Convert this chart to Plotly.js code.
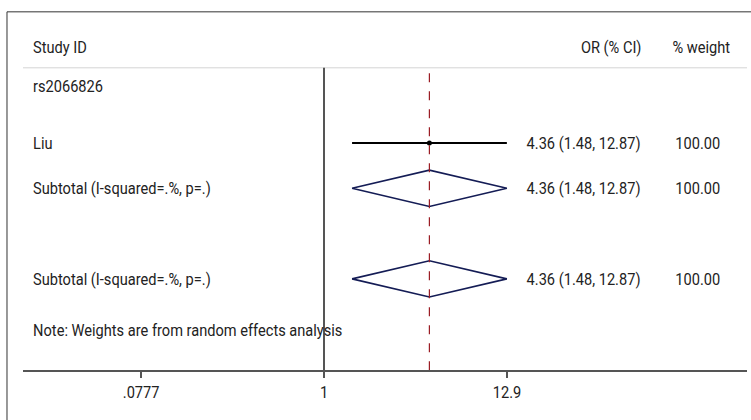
<!DOCTYPE html>
<html><head><meta charset="utf-8">
<script src="https://cdn.plot.ly/plotly-3.0.1.min.js"></script>
<style>html,body{margin:0;padding:0;background:#fff}#chart{width:751px;height:420px}</style>
</head><body><div id="chart"></div>
<script>
// ---- data ----
const studyLabels = ["Liu", "Subtotal (I-squared=.%, p=.)", "Subtotal (I-squared=.%, p=.)"];
const groupLabel = "rs2066826";
const rowKind = ["study", "subtotal", "overall"];
const orEst = [4.36, 4.36, 4.36];
const orLow = [1.48, 1.48, 1.48];
const orHigh = [12.87, 12.87, 12.87];
const weights = ["100.00", "100.00", "100.00"];
const orText = ["4.36 (1.48, 12.87)", "4.36 (1.48, 12.87)", "4.36 (1.48, 12.87)"];
const tickVals = [0.0777, 1, 12.9];
const tickText = [".0777", "1", "12.9"];
const nullValue = 1;
const pooledValue = 4.36;
const noteText = "Note: Weights are from random effects analysis";

// ---- layout positions (row units) ----
const rowPos = [0, 1, 3];
const groupRow = -1.26;
const headerRow = -2.12;
const sepRow = -1.66;
const noteRow = 4.12;
const diamondHalf = 0.4;

const FONT = "Roboto, Liberation Sans, sans-serif";
const FS = 17;
const SX = 0.86; // horizontal condensing of text to mimic a condensed face
const txtColor = "#222";

const traces = [];
rowKind.forEach((k, i) => {
  if (k === "study") {
    traces.push({x: [orLow[i], orHigh[i]], y: [rowPos[i], rowPos[i]], mode: "lines",
      line: {color: "#000", width: 2}, hoverinfo: "skip", showlegend: false});
    traces.push({x: [orEst[i]], y: [rowPos[i]], mode: "markers",
      marker: {color: "#000", size: 5}, hoverinfo: "skip", showlegend: false});
  } else {
    traces.push({x: [orLow[i], orEst[i], orHigh[i], orEst[i], orLow[i]],
      y: [rowPos[i], rowPos[i] - diamondHalf, rowPos[i], rowPos[i] + diamondHalf, rowPos[i]],
      mode: "lines", line: {color: "#141c55", width: 1.6}, hoverinfo: "skip", showlegend: false});
  }
});

const annotations = [];
const leftX = 0.011;
function addText(text, x, y, anchor) {
  annotations.push({text: text, xref: "paper", yref: "y", x: x, y: y, xanchor: anchor,
    yanchor: "middle", showarrow: false, font: {family: FONT, size: FS, color: txtColor}});
}
addText("Study ID", leftX, headerRow, "left");
addText("OR (% CI)", 0.857, headerRow, "right");
addText("% weight", 0.979, headerRow, "right");
addText(groupLabel, leftX, groupRow, "left");
rowKind.forEach((k, i) => {
  addText(studyLabels[i], leftX, rowPos[i], "left");
  addText(orText[i], 0.857, rowPos[i], "right");
  addText(weights[i], 0.9655, rowPos[i], "right");
});
addText(noteText, leftX, noteRow, "left");

const shapes = [
  {type: "line", xref: "paper", yref: "paper", x0: -0.0221, x1: -0.0221, y0: 0.968, y1: -0.2, line: {color: "#333", width: 1}},
  {type: "line", xref: "paper", yref: "paper", x0: -0.0221, x1: 1.01, y0: 0.968, y1: 0.968, line: {color: "#333", width: 1}},
  {type: "line", xref: "paper", yref: "y", x0: 0, x1: 1, y0: sepRow, y1: sepRow, line: {color: "#d4d4d4", width: 1}},
  {type: "line", xref: "x", yref: "y", x0: nullValue, x1: nullValue, y0: sepRow, y1: 5.011, line: {color: "#555", width: 2}},
  {type: "line", xref: "x", yref: "y", x0: pooledValue, x1: pooledValue, y0: sepRow + 0.12, y1: 5.011, line: {color: "#9b1c24", width: 1.2, dash: "dash"}}
];

const layout = {
  width: 751, height: 420,
  margin: {l: 23, r: 4, t: 0, b: 50},
  paper_bgcolor: "#fff", plot_bgcolor: "#fff",
  showlegend: false,
  xaxis: {type: "log", range: [-1.8265, 2.5668], tickvals: tickVals, ticktext: tickText,
    showgrid: false, zeroline: false, showline: true, linecolor: "#555", linewidth: 2,
    ticks: "outside", ticklen: 6, tickwidth: 1.5, tickcolor: "#555",
    tickfont: {family: FONT, size: FS, color: txtColor}, fixedrange: true},
  yaxis: {range: [5.011, -3.157], showgrid: false, zeroline: false, showline: false,
    showticklabels: false, ticks: "", fixedrange: true},
  shapes: shapes,
  annotations: annotations
};

function condense(t, anchor) {
  const bb = t.getBBox();
  const px = anchor === "left" ? bb.x : anchor === "right" ? bb.x + bb.width : bb.x + bb.width / 2;
  const prev = t.getAttribute("transform") || "";
  t.setAttribute("transform", (prev + " translate(" + (px * (1 - SX)) + ",0) scale(" + SX + ",1)").trim());
}

Plotly.newPlot("chart", traces, layout, {displayModeBar: false, staticPlot: true}).then(gd => {
  const anns = gd.querySelectorAll(".annotation");
  anns.forEach((g, i) => {
    const t = g.querySelector("text.annotation-text");
    if (t) condense(t, annotations[i].xanchor);
  });
  gd.querySelectorAll(".xtick text").forEach(t => condense(t, "center"));
});
</script></body></html>
